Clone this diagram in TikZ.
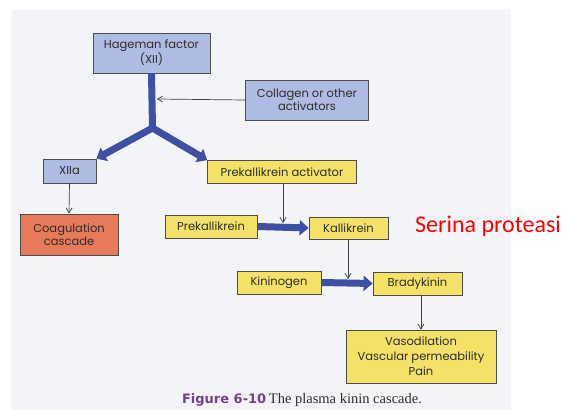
\documentclass[tikz,border=0pt]{standalone}
\usepackage{fontspec}
\setmainfont{Poppins}
\newfontfamily\capsans{DejaVu Sans}
\newfontfamily\capserif{Liberation Serif}
\newfontfamily\redfont{Carlito}
\usetikzlibrary{arrows.meta}
\definecolor{panel}{HTML}{F3F4F7}
\definecolor{boxblue}{HTML}{AEBBE3}
\definecolor{boxyellow}{HTML}{F4E168}
\definecolor{boxred}{HTML}{E87A5C}
\definecolor{arrowblue}{HTML}{3E50A6}
\definecolor{txt}{HTML}{2E2E2E}
\definecolor{cappurple}{HTML}{7A3F8C}
\definecolor{redtxt}{HTML}{FF0000}
\tikzset{
  box/.style={draw=black!70, line width=0.8pt, text=txt, font=\fontsize{11.5}{13}\selectfont, align=center, inner sep=0pt},
  bluebox/.style={box, fill=boxblue},
  yellowbox/.style={box, fill=boxyellow},
  redbox/.style={box, fill=boxred},
  bigarrow/.style={draw=arrowblue, line width=7pt, -{Triangle[length=9pt,width=15pt]}},
  bigline/.style={draw=arrowblue, line width=7pt},
  thinarrow/.style={draw=black!75, line width=0.7pt, -{Straight Barb[length=5pt,width=6pt]}}
}
\begin{document}
\begin{tikzpicture}[x=1pt,y=-1pt]
\useasboundingbox (0,0) rectangle (563,410);
\fill[white] (0,0) rectangle (563,410);
\fill[panel] (11,10) rectangle (511,410);

\node[bluebox, minimum width=117pt, minimum height=40pt] (hag) at (151.5,53) {Hageman factor\\(XII)};
\node[bluebox, minimum width=123pt, minimum height=40pt] (col) at (307,100) {Collagen or other\\activators};
\node[bluebox, minimum width=53pt, minimum height=24pt] (xiia) at (69.5,171) {XIIa};
\node[redbox, minimum width=98pt, minimum height=41pt] (coag) at (69,234.5) {Coagulation\\cascade};
\node[yellowbox, minimum width=149pt, minimum height=23pt] (pka) at (282,172) {Prekallikrein activator};
\node[yellowbox, minimum width=92pt, minimum height=23pt] (prek) at (211,226.5) {Prekallikrein};
\node[yellowbox, minimum width=79pt, minimum height=22pt] (kal) at (348.5,228) {Kallikrein};
\node[yellowbox, minimum width=84pt, minimum height=23pt] (kin) at (279,282.5) {Kininogen};
\node[yellowbox, minimum width=89pt, minimum height=23pt] (brad) at (417.5,283.5) {Bradykinin};
\node[yellowbox, minimum width=150pt, minimum height=53pt, font=\fontsize{11.5}{15}\selectfont] (vaso) at (421,356.5) {Vasodilation\\Vascular permeability\\Pain};

\coordinate (J) at (152.5,128);
\coordinate (colhit) at (157,99);
\coordinate (k1) at (283,223);
\coordinate (k2) at (348,279);

\draw[bigline, line join=round] (hag.south) -- (J);
\draw[bigarrow] (J) -- (xiia.north east);
\draw[bigarrow] (J) -- (pka.north west);
\draw[bigarrow] (prek.east) -- (kal.west);
\draw[bigarrow] (kin.east) -- (brad.west);

\draw[thinarrow] (col.west) -- (colhit);
\draw[thinarrow] (xiia.south) -- (coag.north);
\draw[thinarrow] (pka.south -| k1) -- (k1);
\draw[thinarrow] (kal.south -| k2) -- (k2);
\draw[thinarrow] (brad.south -| vaso.north) -- (vaso.north);

\node[anchor=base, inner sep=0pt] (cap) at (302,403) {{\capsans\bfseries\fontsize{13}{15}\selectfont\color{cappurple}Figure 6-10} {\capserif\fontsize{14.5}{16}\selectfont\color{txt}The plasma kinin cascade.}};
\node[anchor=west, inner sep=0pt, text=redtxt, font=\redfont\fontsize{24}{28}\selectfont] (ser) at (415,226) {Serina proteasi};
\end{tikzpicture}
\end{document}
